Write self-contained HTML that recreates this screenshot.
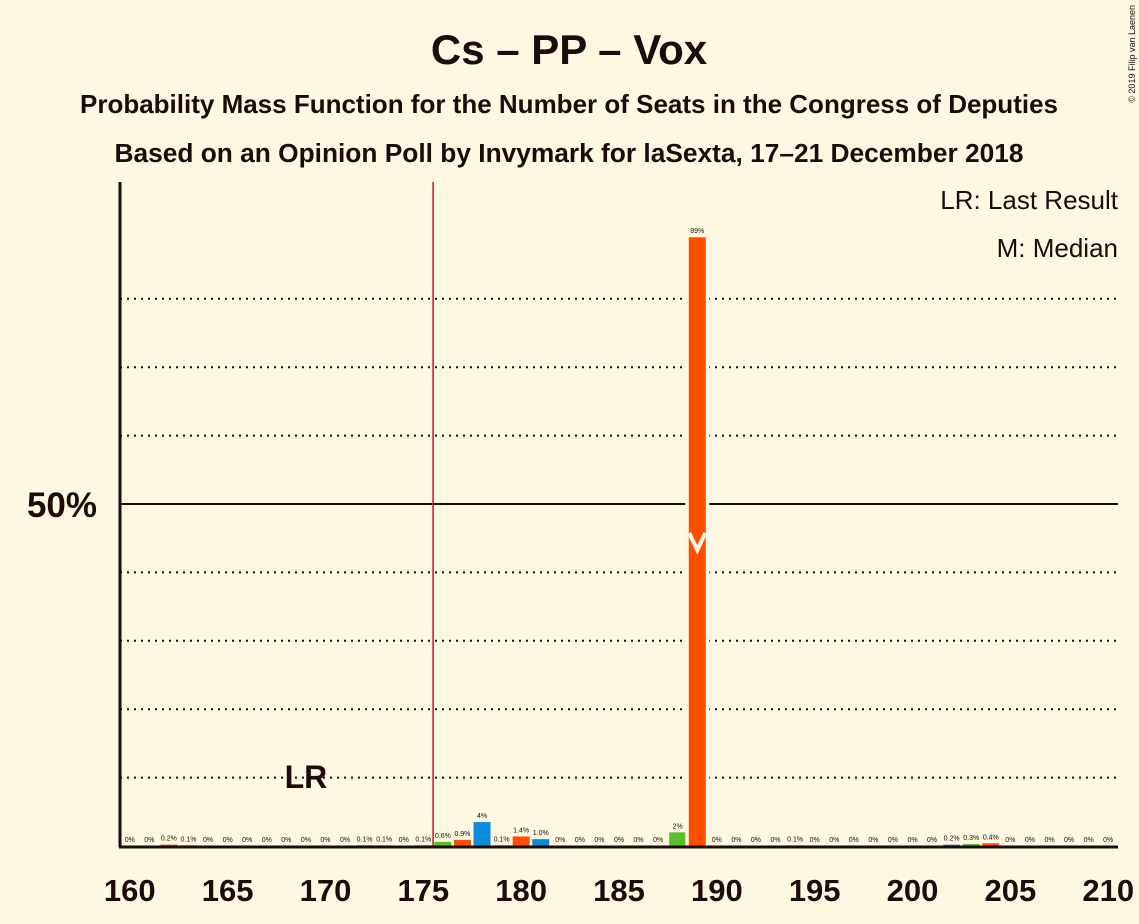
<!DOCTYPE html>
<html><head><meta charset="utf-8"><style>
body{margin:0;background:#FFF8E1;}
svg{display:block;font-family:"Liberation Sans",sans-serif;}
</style></head><body>
<svg width="1139" height="924" viewBox="0 0 1139 924">
<rect width="1139" height="924" fill="#FFF8E1"/>
<text x="569" y="64" text-anchor="middle" font-size="42" font-weight="bold" fill="#1E0A0A">Cs – PP – Vox</text>
<text x="569" y="113" text-anchor="middle" font-size="26" font-weight="bold" fill="#1E0A0A">Probability Mass Function for the Number of Seats in the Congress of Deputies</text>
<text x="569" y="162" text-anchor="middle" font-size="26.3" font-weight="bold" fill="#1E0A0A">Based on an Opinion Poll by Invymark for laSexta, 17–21 December 2018</text>
<text x="1118" y="209" text-anchor="end" font-size="26" fill="#1E0A0A">LR: Last Result</text>
<text x="1118" y="257" text-anchor="end" font-size="26" fill="#1E0A0A">M: Median</text>
<text x="1135" y="5" transform="rotate(-90 1135 5)" text-anchor="end" font-size="9" fill="#1E0A0A">© 2019 Filip van Laenen</text>
<g id="grid"></g>
<g id="bars"></g>
<g id="xt"></g>
<line x1="120" y1="182" x2="120" y2="847" stroke="#1E0A0A" stroke-width="3"/>
<line x1="119" y1="847" x2="1118" y2="847" stroke="#1E0A0A" stroke-width="3"/>
<text x="62" y="517" text-anchor="middle" font-size="35" font-weight="bold" fill="#1E0A0A">50%</text>
</svg>
<script>
const seats=[160,161,162,163,164,165,166,167,168,169,170,171,172,173,174,175,176,177,178,179,180,181,182,183,184,185,186,187,188,189,190,191,192,193,194,195,196,197,198,199,200,201,202,203,204,205,206,207,208,209,210];
const probs=[0,0,0.2,0.1,0,0,0,0,0,0,0,0,0.1,0.1,0,0.1,0.6,0.9,3.5,0.1,1.4,1.0,0,0,0,0,0,0,2,89,0,0,0,0,0.1,0,0,0,0,0,0,0,0.2,0.3,0.4,0,0,0,0,0,0];
const labels=["0%","0%","0.2%","0.1%","0%","0%","0%","0%","0%","0%","0%","0%","0.1%","0.1%","0%","0.1%","0.6%","0.9%","4%","0.1%","1.4%","1.0%","0%","0%","0%","0%","0%","0%","2%","89%","0%","0%","0%","0%","0.1%","0%","0%","0%","0%","0%","0%","0%","0.2%","0.3%","0.4%","0%","0%","0%","0%","0%","0%"];
const xTicks=[160,165,170,175,180,185,190,195,200,205,210];
const gridVals=[10,20,30,40,60,70,80];
const majority=176, median=189, lastResult=169;
const NS="http://www.w3.org/2000/svg";
const X0=120,SW=(1118-120)/51,Y0=846,PY=6.84;
const xc=s=>X0+(s-160+0.5)*SW;
const y=v=>Y0-v*PY;
const colors=["#FF4E00","#0C8CD8","#5BBE2E"];
function mk(t,a,p){const e=document.createElementNS(NS,t);for(const k in a)e.setAttribute(k,a[k]);p.appendChild(e);return e;}
const grid=document.getElementById('grid');
gridVals.forEach(v=>{const l=mk('line',{x1:120,x2:1118,y1:y(v),y2:y(v),stroke:'#1E0A0A','stroke-width':2,'stroke-dasharray':'2,5'},grid);

});
const l50=mk('line',{x1:120,x2:1118,y1:y(50),y2:y(50),stroke:'#1E0A0A','stroke-width':2},grid);


const bars=document.getElementById('bars');
const mx=X0+(majority-160)*SW;
const ml=mk('line',{x1:mx,x2:mx,y1:182,y2:846,stroke:'#C8102E','stroke-width':1.5},bars);


seats.forEach((s,i)=>{
 const c=xc(s),v=probs[i];
 if(v>0){
  if(v>20){const g=mk('rect',{x:c-12,y:y(v),width:24,height:Y0-y(v),fill:'#FFF8E1'},bars);
  
  }
  const r=mk('rect',{x:c-8.5,y:y(v),width:17,height:Y0-y(v),fill:colors[s%3]},bars);
  
  
 }
 const t=mk('text',{x:c,y:y(v)-4,'text-anchor':'middle','font-size':7,fill:'#1E0A0A'},bars);
 t.textContent=labels[i];
 
 
 if(s===median){const m=mk('polyline',{points:`${c-8},${533} ${c},${550} ${c+8},${533}`,fill:'none',stroke:'#FFF8E1','stroke-width':4},bars);
 
 }
 if(s===lastResult){const lr=mk('text',{x:c,y:788,'text-anchor':'middle','font-size':32,'font-weight':'bold',fill:'#1E0A0A'},bars);
 lr.textContent='LR';
 
 }
});
const xt=document.getElementById('xt');
xTicks.forEach(s=>{const t=mk('text',{x:xc(s),y:901,'text-anchor':'middle','font-size':31,'font-weight':'bold',fill:'#1E0A0A'},xt);
t.textContent=s;

});
</script>
</body></html>
